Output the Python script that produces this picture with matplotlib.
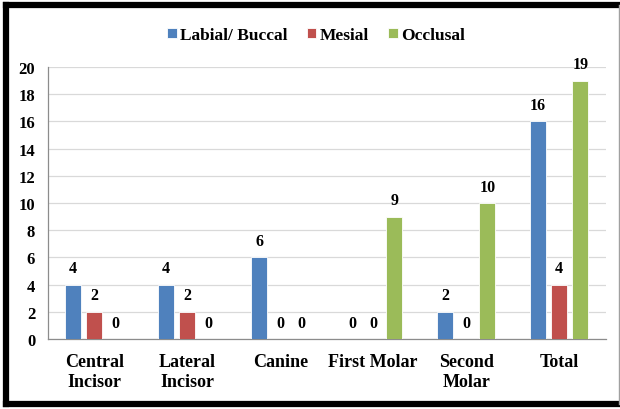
import numpy as np
import matplotlib
matplotlib.use("Agg")
import matplotlib.pyplot as plt
from matplotlib.lines import Line2D

categories = ["Central\nIncisor", "Lateral\nIncisor", "Canine", "First Molar", "Second\nMolar", "Total"]
labial_buccal = [4, 4, 6, 0, 2, 16]
mesial = [2, 2, 0, 0, 0, 4]
occlusal = [0, 0, 0, 9, 10, 19]
series = [("Labial/ Buccal", labial_buccal, "#4F81BD"),
          ("Mesial", mesial, "#C0504D"),
          ("Occlusal", occlusal, "#9BBB59")]

plt.rcParams["font.family"] = ["Liberation Serif", "DejaVu Serif"]
plt.rcParams["font.weight"] = "bold"

fig = plt.figure(figsize=(6.2, 4.1), dpi=100)
ax = fig.add_axes([0.077, 0.171, 0.900, 0.663])

x = np.arange(len(categories))
pitch, width = 0.226, 0.172
for k, (name, vals, col) in enumerate(series):
    pos = x + (k - 1) * pitch
    ax.bar(pos, vals, width, color=col, edgecolor="white", linewidth=0.6,
           label=name, zorder=3)
    for xi, v in zip(pos, vals):
        ax.annotate(f"{v}", (xi, v), xytext=(0, 6), textcoords="offset points",
                    ha="center", va="bottom", fontsize=11.5, fontweight="bold")

ax.set_xlim(-0.5, len(categories) - 0.5)
ax.set_ylim(0, 20)
ax.set_yticks(range(0, 21, 2))
ax.set_xticks(x)
ax.set_xticklabels(categories, fontsize=13, fontweight="bold", linespacing=1.25)
ax.tick_params(axis="y", labelsize=12, length=0, pad=9)
ax.tick_params(axis="x", length=0, pad=10)
ax.grid(axis="y", color="#D9D9D9", linewidth=0.9, zorder=0)
for s in ("top", "right"):
    ax.spines[s].set_visible(False)
for s in ("left", "bottom"):
    ax.spines[s].set_color("#8C8C8C")
    ax.spines[s].set_linewidth(0.9)

fig.legend(loc="upper center", bbox_to_anchor=(0.51, 0.97), ncol=3, frameon=False,
           prop={"size": 12.5, "weight": "bold"}, handlelength=0.55, handleheight=0.55,
           handletextpad=0.2, columnspacing=1.1)

# frame: black on left, top and bottom, thin grey on the right
frame = [((0.009, 0.009), (0.012, 0.985), "black", 4.5),
         ((0.009, 0.998), (0.985, 0.985), "black", 4.5),
         ((0.009, 0.998), (0.012, 0.012), "black", 4.5),
         ((0.998, 0.998), (0.012, 0.985), "#A0A0A0", 1.0)]
for xs, ys, c, lw in frame:
    fig.add_artist(Line2D(xs, ys, transform=fig.transFigure, color=c, linewidth=lw))
fig.savefig("out.png", dpi=100)
